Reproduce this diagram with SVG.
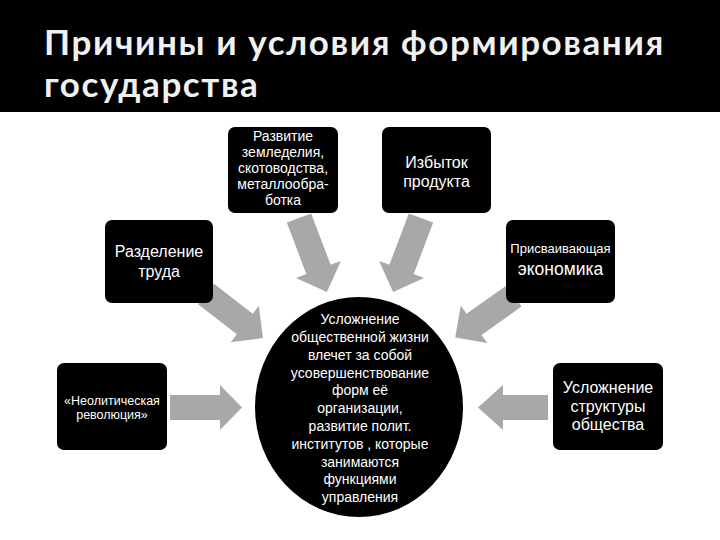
<svg xmlns="http://www.w3.org/2000/svg" width="720" height="540" viewBox="0 0 720 540">
<style>
.title{font-family:Lato,"Open Sans",sans-serif;font-weight:700;font-size:35px;letter-spacing:1.6px;fill:#f0f0f0}
.box{fill:#000}
.t{font-family:"Liberation Sans","Arial",sans-serif;fill:#fff;text-anchor:middle}
.arrow{fill:#a8a8a8}
</style>
<rect x="0" y="0" width="720" height="540" fill="#fff"/>
<g id="title">
<rect x="0" y="0" width="720" height="112" fill="#000"/>
<text class="title" x="44" y="55">Причины и условия формирования</text>
<text class="title" x="44" y="97">государства</text>
</g>
<g id="connectors">
<polygon class="arrow" transform="translate(299,218) rotate(69.3)" points="0,-13 55,-13 55,-24 79,0 55,24 55,13 0,13"/>
<polygon class="arrow" transform="translate(421,218) rotate(110.7)" points="0,-13 55,-13 55,-24 79,0 55,24 55,13 0,13"/>
<polygon class="arrow" transform="translate(206,294) rotate(37.7)" points="0,-13 49,-13 49,-23 72,0 49,23 49,13 0,13"/>
<polygon class="arrow" transform="translate(514,296) rotate(144.7)" points="0,-13 49,-13 49,-23 72,0 49,23 49,13 0,13"/>
<polygon class="arrow" points="170,395 220,395 220,385 242,407.5 220,430 220,420 170,420"/>
<polygon class="arrow" points="548,395 503,395 503,385 478,407.5 503,430 503,420 548,420"/>
</g>
<g id="n-zemledelie">
<rect class="box" x="228" y="127" width="110" height="86" rx="7"/>
<text class="t" font-size="14"><tspan x="283" y="141">Развитие</tspan><tspan x="283" y="157">земледелия,</tspan><tspan x="283" y="173">скотоводства,</tspan><tspan x="283" y="189">металлообра-</tspan><tspan x="283" y="205">ботка</tspan></text>
</g>
<g id="n-izbytok">
<rect class="box" x="382" y="127" width="109" height="86" rx="7"/>
<text class="t" font-size="16"><tspan x="436.5" y="168">Избыток</tspan><tspan x="436.5" y="187">продукта</tspan></text>
</g>
<g id="n-razdelenie">
<rect class="box" x="105" y="220" width="108" height="83" rx="7"/>
<text class="t" font-size="16"><tspan x="159" y="257">Разделение</tspan><tspan x="159" y="277">труда</tspan></text>
</g>
<g id="n-prisv">
<rect class="box" x="506" y="220" width="109" height="83" rx="7"/>
<text class="t" font-size="13" x="560.5" y="253">Присваивающая</text>
<text class="t" font-size="17.5" x="560.5" y="275">экономика</text>
</g>
<g id="n-neolit">
<rect class="box" x="57" y="363" width="110" height="87" rx="7"/>
<text class="t" font-size="12.5"><tspan x="112" y="405">«Неолитическая</tspan><tspan x="112" y="419">революция»</tspan></text>
</g>
<g id="n-struktura">
<rect class="box" x="553" y="363" width="110" height="87" rx="7"/>
<text class="t" font-size="16"><tspan x="608" y="393">Усложнение</tspan><tspan x="608" y="412">структуры</tspan><tspan x="608" y="430">общества</tspan></text>
</g>
<g id="n-center">
<ellipse cx="359" cy="407" rx="104" ry="110" fill="#000"/>
<text class="t" font-size="14"><tspan x="360" y="324">Усложнение</tspan><tspan x="360" y="342">общественной жизни</tspan><tspan x="360" y="360">влечет за собой</tspan><tspan x="360" y="378">усовершенствование</tspan><tspan x="360" y="395">форм её</tspan><tspan x="360" y="413">организации,</tspan><tspan x="360" y="431">развитие полит.</tspan><tspan x="360" y="449">институтов , которые</tspan><tspan x="360" y="467">занимаются</tspan><tspan x="360" y="484">функциями</tspan><tspan x="360" y="502">управления</tspan></text>
</g>
</svg>
